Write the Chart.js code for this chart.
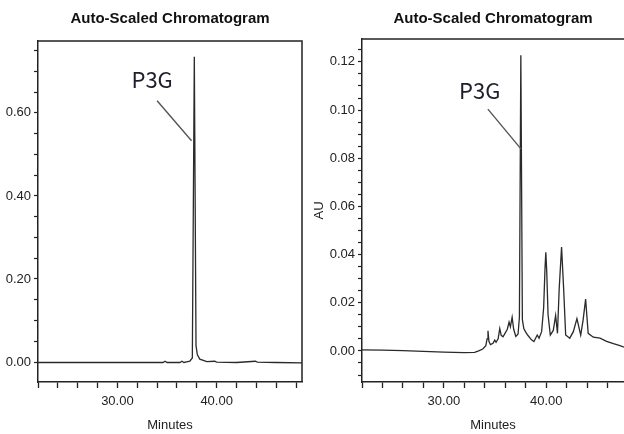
<!DOCTYPE html>
<html>
<head>
<meta charset="utf-8">
<script src="https://cdn.jsdelivr.net/npm/chart.js@4"></script>
<style>
  html, body { margin: 0; padding: 0; background: #fff; overflow: hidden; }
  .wrap { position: absolute; top: 0; width: 312px; height: 434px; }
</style>
</head>
<body>
<div class="wrap" style="left:0"><canvas id="leftChart" width="312" height="434"></canvas></div>
<div class="wrap" style="left:312px"><canvas id="rightChart" width="312" height="434"></canvas></div>
<script>
// left trace (minutes / AU)
const leftTimes = [22, 26, 30, 34.6, 34.8, 35.0, 36.3, 36.5, 36.7, 37.1, 37.3, 37.55, 37.75, 37.92, 38.05, 38.3, 38.8, 39.0, 39.8, 40.0, 42, 43.9, 44.1, 46, 48.6];
const leftAbs = [-0.001, -0.001, -0.001, -0.001, 0.002, -0.001, -0.001, 0.002, -0.001, 0.001, 0.002, 0.01, 0.735, 0.04, 0.018, 0.007, 0.003, 0.001, 0.002, 0.0, -0.001, 0.002, 0.0, -0.001, -0.002];

// right trace (minutes / AU)
const rightTimes = [22, 24, 26, 28, 30, 32, 33, 33.4, 33.8, 34.1, 34.22, 34.31, 34.4, 34.55, 34.8, 34.97, 35.1, 35.3, 35.46, 35.6, 35.78, 36.0, 36.2, 36.37, 36.5, 36.67, 36.82, 37.03, 37.25, 37.38, 37.52, 37.67, 37.81, 37.97, 38.2, 38.56, 38.8, 39.12, 39.3, 39.55, 39.75, 39.88, 39.96, 40.05, 40.18, 40.4, 40.69, 40.92, 41.1, 41.27, 41.5, 41.7, 41.9, 42.3, 42.65, 43.0, 43.37, 43.6, 43.85, 44.1, 44.6, 45.26, 45.9, 46.57, 47.2, 47.6];
const rightAbs = [0.0004, 0.0003, 0.0001, -0.0002, -0.0005, -0.0007, -0.0006, 0.0, 0.0008, 0.0022, 0.005, 0.0084, 0.004, 0.0026, 0.0032, 0.0045, 0.0036, 0.005, 0.0093, 0.0065, 0.0059, 0.0075, 0.009, 0.012, 0.010, 0.014, 0.009, 0.006, 0.007, 0.014, 0.1228, 0.013, 0.0093, 0.008, 0.0065, 0.0046, 0.0039, 0.0066, 0.0053, 0.008, 0.018, 0.034, 0.041, 0.033, 0.015, 0.0066, 0.0085, 0.0147, 0.0073, 0.026, 0.0431, 0.026, 0.0066, 0.0053, 0.008, 0.0134, 0.0066, 0.0127, 0.0215, 0.0073, 0.0057, 0.0053, 0.004, 0.003, 0.0022, 0.0016];

const xLabelTicks = [30, 40];
const peakName = "P3G";

const sans = '"Liberation Sans", Arial, sans-serif';
const ink = "#222";

// box lines on top and right of the plot
const frame = {
  id: "frame",
  afterDraw(chart, args, opts) {
    const a = chart.chartArea;
    const ctx = chart.ctx;
    ctx.save();
    ctx.strokeStyle = ink;
    ctx.lineWidth = 1.5;
    ctx.beginPath();
    ctx.moveTo(a.left, a.top);
    ctx.lineTo(a.right, a.top);
    if (opts.right) ctx.lineTo(a.right, a.bottom);
    ctx.stroke();
    ctx.restore();
  },
};

// peak name with leader line, placed in data units
const peakLabel = {
  id: "peakLabel",
  afterDatasetsDraw(chart, args, opts) {
    const x = chart.scales.x, y = chart.scales.y, ctx = chart.ctx;
    ctx.save();
    ctx.strokeStyle = "#555";
    ctx.lineWidth = 1.4;
    ctx.beginPath();
    ctx.moveTo(x.getPixelForValue(opts.from[0]), y.getPixelForValue(opts.from[1]));
    ctx.lineTo(x.getPixelForValue(opts.to[0]), y.getPixelForValue(opts.to[1]));
    ctx.stroke();
    ctx.fillStyle = "#1e1e2c";
    ctx.font = '22px "Noto Sans CJK KR", "Noto Sans", sans-serif';
    ctx.textAlign = "center";
    ctx.textBaseline = "middle";
    ctx.fillText(opts.text, x.getPixelForValue(opts.at[0]), y.getPixelForValue(opts.at[1]));
    ctx.restore();
  },
};

function isMultiple(v, step) {
  return Math.abs(v / step - Math.round(v / step)) < 1e-6;
}

function makeChart(id, cfg) {
  const points = cfg.times.map((t, i) => ({ x: t, y: cfg.values[i] }));
  return new Chart(document.getElementById(id), {
    type: "line",
    data: {
      datasets: [
        {
          data: points,
          borderColor: "#2a2a2a",
          borderWidth: 1.3,
          pointRadius: 0,
          tension: 0,
        },
      ],
    },
    options: {
      responsive: false,
      animation: false,
      devicePixelRatio: 1,
      layout: { padding: { left: 0, right: cfg.padRight, top: 0, bottom: 0 } },
      plugins: {
        legend: { display: false },
        tooltip: { enabled: false },
        title: {
          display: true,
          text: "Auto-Scaled Chromatogram",
          fullSize: false,
          color: "#111",
          font: { family: sans, size: 15, weight: "bold", lineHeight: 1.2 },
          padding: { top: 10, bottom: cfg.titleBottom },
        },
        frame: { right: cfg.boxRight },
        peakLabel: cfg.peak,
      },
      scales: {
        x: {
          type: "linear",
          min: 22,
          max: cfg.xMax,
          afterFit: (s) => { s.height = 52; },
          border: { display: true, color: ink, width: 1.5 },
          grid: { drawOnChartArea: false, drawTicks: true, tickLength: 6, color: ink, tickColor: ink, tickWidth: 1.3 },
          ticks: {
            stepSize: 2,
            includeBounds: false,
            autoSkip: false,
            maxRotation: 0,
            padding: 6,
            color: ink,
            font: { family: sans, size: 13 },
            callback: (v) => (xLabelTicks.includes(v) ? v.toFixed(2) : ""),
          },
          title: {
            display: true,
            text: "Minutes",
            color: ink,
            font: { family: sans, size: 13 },
            padding: { top: 0, bottom: 1 },
          },
        },
        y: {
          min: cfg.yMin,
          max: cfg.yMax,
          afterFit: (s) => { s.width = cfg.yWidth; },
          border: { display: true, color: ink, width: 1.5 },
          grid: { drawOnChartArea: false, drawTicks: true, tickLength: 4, color: ink, tickColor: ink, tickWidth: 1.2 },
          ticks: {
            stepSize: cfg.yStep,
            includeBounds: false,
            autoSkip: false,
            padding: 3,
            color: ink,
            font: { family: sans, size: 13 },
            callback: (v) => (isMultiple(v, cfg.yMajor) ? Math.abs(v).toFixed(2) : ""),
          },
          title: {
            display: cfg.yTitle !== "",
            text: cfg.yTitle,
            color: ink,
            font: { family: sans, size: 13 },
            padding: { top: 0, bottom: 0 },
          },
        },
      },
    },
    plugins: [frame, peakLabel],
  });
}

makeChart("leftChart", {
  times: leftTimes,
  values: leftAbs,
  xMax: 48.6,
  yMin: -0.048,
  yMax: 0.773,
  yStep: 0.05,
  yMajor: 0.2,
  yWidth: 38,
  yTitle: "",
  padRight: 10,
  titleBottom: 13,
  boxRight: true,
  peak: { text: peakName, at: [33.5, 0.68], from: [34.0, 0.629], to: [37.47, 0.533] },
});

makeChart("rightChart", {
  times: rightTimes,
  values: rightAbs,
  xMax: 47.6,
  yMin: -0.0129,
  yMax: 0.1295,
  yStep: 0.005,
  yMajor: 0.02,
  yWidth: 50,
  yTitle: "AU",
  padRight: 0,
  titleBottom: 11,
  boxRight: false,
  peak: { text: peakName, at: [33.5, 0.1079], from: [34.3, 0.1004], to: [37.55, 0.0838] },
});
</script>
</body>
</html>
